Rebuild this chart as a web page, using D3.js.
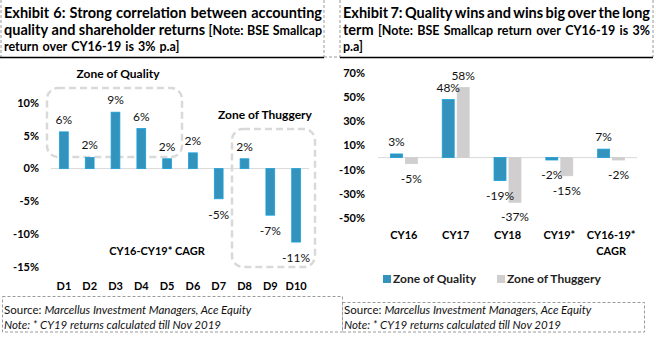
<!DOCTYPE html>
<html>
<head>
<meta charset="utf-8">
<script src="https://cdn.jsdelivr.net/npm/d3@7"></script>
<style>
  body { margin: 0; background: #fff; }
  svg { display: block; font-family: Lato, "Noto Sans", sans-serif; }
</style>
</head>
<body>
<svg id="chart" width="656" height="344"></svg>
<script>
// Exhibit 6 data
const deciles = ["D1", "D2", "D3", "D4", "D5", "D6", "D7", "D8", "D9", "D10"];
const decileCagr = [5.6, 1.7, 8.6, 6.1, 1.5, 2.4, -4.6, 1.5, -7.1, -11.2];
const leftTicks = [-15, -10, -5, 0, 5, 10];

// Exhibit 7 data
const periods = ["CY16", "CY17", "CY18", "CY19*", "CY16-19*|CAGR"];
const seriesNames = ["Zone of Quality", "Zone of Thuggery"];
const qualityReturns = [3, 48, -19, -2, 7];
const thuggeryReturns = [-5, 58, -37, -15, -2];
const rightTicks = [-50, -30, -10, 10, 30, 50, 70];

const BLUE = "#3393BD", BLUE_EDGE = "#1AA0DA", GREY = "#D0CECE", BOX = "#D9D9D9";

const svg = d3.select("#chart");
const pct = v => `${Math.round(v)}%`;

// ---------- titles (justified word by word) ----------
function justifyLine(segments, x0, x1, y, justify) {
  const g = svg.append("g");
  const nodes = segments.map(s => g.append("text")
    .attr("y", y)
    .attr("font-size", s.size)
    .attr("font-weight", "bold")
    .attr("fill", "#000")
    .text(s.t));
  const widths = nodes.map(n => n.node().getComputedTextLength());
  const total = d3.sum(widths);
  const gap = justify && nodes.length > 1 ? (x1 - x0 - total) / (nodes.length - 1) : 4;
  let x = x0;
  nodes.forEach((n, i) => { n.attr("x", x); x += widths[i] + gap; });
}
function words(str, size) { return str.split(" ").map(t => ({ t, size })); }

const T = 14.5, N = 12.5;
justifyLine(words("Exhibit 6: Strong correlation between accounting", T), 4, 322, 18, true);
justifyLine([...words("quality and shareholder returns", T), ...words("[Note: BSE Smallcap", N)], 4, 322, 35, true);
justifyLine(words("return over CY16-19 is 3% p.a]", N), 4, 322, 51, false);

justifyLine(words("Exhibit 7: Quality wins and wins big over the long", T), 343, 650, 18, true);
justifyLine([...words("term", T), ...words("[Note: BSE Smallcap return over CY16-19 is 3%", N)], 343, 650, 35, true);
justifyLine(words("p.a]", N), 343, 650, 51, false);

// title box borders
const dash = "3,2";
[[1, 0, 1, 57], [324, 0, 324, 57], [340, 0, 340, 57], [653, 0, 653, 57], [324, 57, 340, 57]].forEach(([a, b, c, d]) =>
  svg.append("line").attr("x1", a).attr("y1", b).attr("x2", c).attr("y2", d)
    .attr("stroke", "#9a9a9a").attr("stroke-dasharray", dash));
[[0, 324], [340, 653]].forEach(([a, b]) =>
  svg.append("line").attr("x1", a).attr("x2", b).attr("y1", 57.5).attr("y2", 57.5)
    .attr("stroke", "#000").attr("stroke-width", 1.5));

// ---------- Exhibit 6 ----------
const x6 = d3.scaleBand().domain(deciles).range([51, 309]).paddingInner(0.66).paddingOuter(0.33);
const y6 = d3.scaleLinear().domain([-15, 10]).range([267, 103]);

const left = svg.append("g");

// zone boxes
left.append("rect").attr("x", 47).attr("y", 88).attr("width", 135).attr("height", 69).attr("rx", 11)
  .attr("fill", "none").attr("stroke", BOX).attr("stroke-width", 2.5).attr("stroke-dasharray", "7,4");
left.append("rect").attr("x", 232).attr("y", 129).attr("width", 83).attr("height", 138).attr("rx", 11)
  .attr("fill", "none").attr("stroke", BOX).attr("stroke-width", 2.5).attr("stroke-dasharray", "7,4");

left.append("text").attr("x", 118).attr("y", 78).attr("text-anchor", "middle")
  .attr("font-size", 12).attr("font-weight", "bold").text("Zone of Quality");
left.append("text").attr("x", 265).attr("y", 119).attr("text-anchor", "middle")
  .attr("font-size", 12).attr("font-weight", "bold").text("Zone of Thuggery");

// y tick labels
left.selectAll(".yt").data(leftTicks).join("text")
  .attr("x", 39).attr("y", d => y6(d)).attr("dy", "0.35em").attr("text-anchor", "end")
  .attr("font-size", 11).attr("font-weight", "bold").text(d => `${d}%`);

left.append("line").attr("x1", 51).attr("x2", 309).attr("y1", y6(0)).attr("y2", y6(0))
  .attr("stroke", BOX).attr("stroke-width", 1);

left.selectAll(".bar").data(decileCagr).join("rect")
  .attr("x", (d, i) => x6(deciles[i]))
  .attr("y", d => y6(Math.max(0, d)))
  .attr("width", x6.bandwidth())
  .attr("height", d => Math.abs(y6(d) - y6(0)))
  .attr("fill", BLUE).attr("stroke", BLUE_EDGE).attr("stroke-width", 0.8);

left.selectAll(".val").data(decileCagr).join("text")
  .attr("x", (d, i) => x6(deciles[i]) + x6.bandwidth() / 2)
  .attr("y", d => d >= 0 ? y6(d) - 8 : y6(d) + 20)
  .attr("text-anchor", "middle").attr("font-size", 12).attr("fill", "#111")
  .text(pct);

left.selectAll(".xl").data(deciles).join("text")
  .attr("x", d => x6(d) + x6.bandwidth() / 2).attr("y", 290)
  .attr("text-anchor", "middle").attr("font-size", 11).attr("font-weight", "bold").text(d => d);

left.append("text").attr("x", 157).attr("y", 255).attr("text-anchor", "middle")
  .attr("font-size", 11).attr("font-weight", "bold").text("CY16-CY19* CAGR");

// ---------- Exhibit 7 ----------
const x7 = d3.scaleBand().domain(periods).range([378, 637]).paddingInner(0.48).paddingOuter(0.24);
const x7s = d3.scaleBand().domain(seriesNames).range([0, x7.bandwidth()]).paddingInner(0.2);
const y7 = d3.scaleLinear().domain([-50, 70]).range([218, 73]);

const right = svg.append("g");

right.selectAll(".yt").data(rightTicks).join("text")
  .attr("x", 365).attr("y", d => y7(d)).attr("dy", "0.35em").attr("text-anchor", "end")
  .attr("font-size", 11).attr("font-weight", "bold").text(d => `${d}%`);

right.append("line").attr("x1", 378).attr("x2", 637).attr("y1", y7(0)).attr("y2", y7(0))
  .attr("stroke", BOX).attr("stroke-width", 1);

const rows = periods.map((p, i) => [
  { p, s: seriesNames[0], v: qualityReturns[i] },
  { p, s: seriesNames[1], v: thuggeryReturns[i] }
]).flat();

right.selectAll(".bar").data(rows).join("rect")
  .attr("x", d => x7(d.p) + x7s(d.s))
  .attr("y", d => y7(Math.max(0, d.v)))
  .attr("width", x7s.bandwidth())
  .attr("height", d => Math.abs(y7(d.v) - y7(0)))
  .attr("fill", d => d.s === seriesNames[0] ? BLUE : GREY)
  .attr("stroke", d => d.s === seriesNames[0] ? BLUE_EDGE : GREY).attr("stroke-width", 0.8);

right.selectAll(".val").data(rows).join("text")
  .attr("x", d => x7(d.p) + x7s(d.s) + x7s.bandwidth() / 2)
  .attr("y", d => d.v >= 0 ? y7(d.v) - 8 : y7(d.v) + 19)
  .attr("text-anchor", "middle").attr("font-size", 12).attr("fill", "#111")
  .text(d => pct(d.v));

right.selectAll(".xl").data(periods).join("text")
  .attr("x", d => x7(d) + x7.bandwidth() / 2).attr("y", 239)
  .attr("text-anchor", "middle").attr("font-size", 11).attr("font-weight", "bold")
  .each(function (d) {
    d.split("|").forEach((line, k) => d3.select(this).append("tspan")
      .attr("x", x7(d) + x7.bandwidth() / 2).attr("dy", k ? 16 : 0).text(line));
  });

// legend
const legend = right.append("g");
[[383, 393, BLUE], [497, 507, GREY]].forEach(([sx, tx, c], i) => {
  legend.append("rect").attr("x", sx).attr("y", 275).attr("width", 8).attr("height", 8).attr("fill", c);
  legend.append("text").attr("x", tx).attr("y", 283).attr("font-size", 12).attr("font-weight", "bold")
    .attr("fill", "#222").text(seriesNames[i]);
});

// ---------- footers ----------
svg.append("rect").attr("x", 2.5).attr("y", 296.5).attr("width", 340).attr("height", 35.5)
  .attr("fill", "none").attr("stroke", "#9a9a9a").attr("stroke-dasharray", dash);
svg.append("rect").attr("x", 342.5).attr("y", 302.5).attr("width", 302).attr("height", 29.5)
  .attr("fill", "none").attr("stroke", "#9a9a9a").attr("stroke-dasharray", dash);

[4, 344].forEach(fx => {
  const t1 = svg.append("text").attr("x", fx).attr("y", 314).attr("font-size", 11.5).attr("fill", "#111");
  t1.append("tspan").text("Source: ");
  t1.append("tspan").attr("font-style", "italic").text("Marcellus Investment Managers, Ace Equity");
  svg.append("text").attr("x", fx).attr("y", 329).attr("font-size", 11.5).attr("font-style", "italic")
    .attr("fill", "#111").text("Note: * CY19 returns calculated till Nov 2019");
});
</script>
</body>
</html>
